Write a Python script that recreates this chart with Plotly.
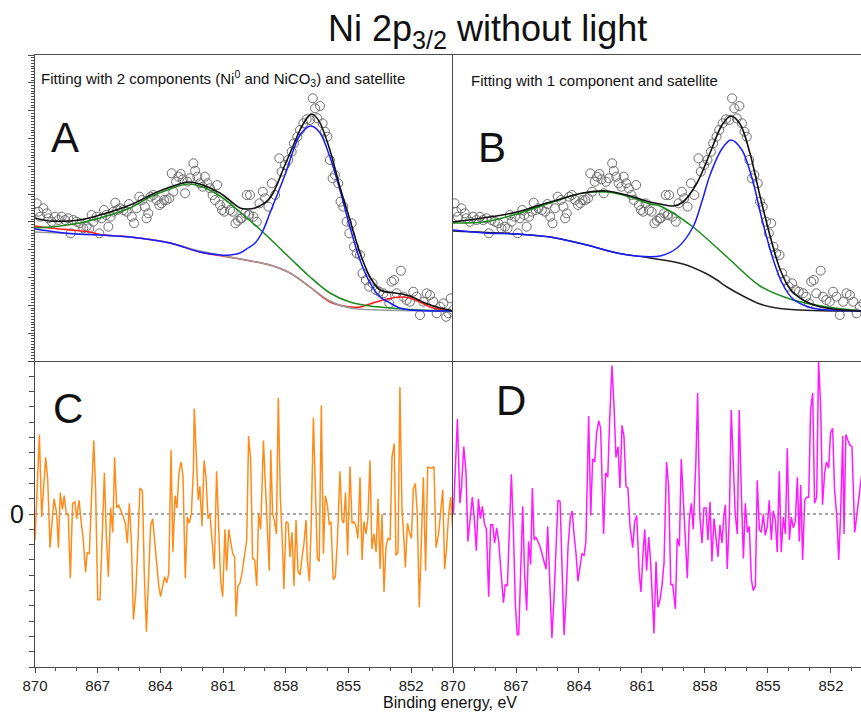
import plotly.graph_objects as go

# ---------------- measured spectrum (same data in A and B) ----------------
data_E = [869.92, 869.84, 869.76, 869.60, 869.44, 869.36, 869.20, 869.04, 868.88, 868.72,
          868.56, 868.41, 868.29, 868.17, 868.01, 867.85, 867.69, 867.53, 867.40, 867.29,
          867.21, 867.05, 866.92, 866.81, 866.70, 866.60, 866.49, 866.38, 866.25, 866.16,
          866.06, 865.93, 865.77, 865.61, 865.50, 865.37, 865.26, 865.14, 865.01, 864.86,
          864.74, 864.66, 864.58, 864.47, 864.34, 864.18, 864.05, 863.94, 863.83, 863.70,
          863.57, 863.46, 863.38, 863.25, 863.14, 863.03, 862.93, 862.82, 862.71, 862.58,
          862.42, 862.34, 862.23, 862.11, 861.98, 861.87, 861.75, 861.63, 861.50, 861.39,
          861.28, 861.15, 861.05, 860.94, 860.83, 860.67, 860.54, 860.41, 860.29, 860.16,
          859.87, 859.79,
          860.11, 859.95, 859.75, 859.71, 859.55, 859.39, 859.26, 859.10, 858.99, 858.83,
          858.67, 858.51, 858.31, 858.20, 858.04, 857.88, 857.72, 857.61, 857.45, 857.32,
          857.16, 857.00, 856.84, 856.71, 856.60, 856.49, 856.36, 856.24, 856.12, 856.01,
          855.89, 855.76, 855.65, 855.49, 855.38, 855.25, 855.09, 854.96, 854.85, 854.74,
          854.61, 854.45, 854.33, 854.17, 854.01, 853.85, 853.69, 853.53, 853.33, 853.18,
          853.05, 852.94, 852.82, 852.70, 852.49, 852.38, 852.22, 852.06, 851.90, 851.74,
          851.58, 851.42, 851.26, 851.10, 850.94, 850.78, 850.62, 850.46, 850.33, 850.22,
          850.11, 849.98]
data_I = [157.7, 149.3, 144.3, 152.7, 147.7, 142.7, 139.3, 144.3, 141.0, 144.3,
          141.0, 142.7, 127.7, 141.0, 139.3, 137.7, 132.7, 134.3, 132.7, 146.0,
          139.3, 144.3, 127.7, 142.7, 151.0, 146.0, 134.3, 144.3, 149.3, 158.3,
          151.0, 152.7, 151.0, 149.3, 157.0, 144.3, 137.7, 152.7, 164.3, 161.0,
          154.3, 142.7, 147.7, 164.3, 166.0, 161.0, 156.0, 157.7, 161.0, 161.0,
          162.7, 187.7, 169.3, 179.3, 184.3, 187.0, 181.7, 167.7, 179.3, 182.7,
          197.7, 190.3, 184.3, 177.7, 174.3, 184.3, 177.7, 172.7, 166.0, 161.0,
          176.0, 156.0, 151.0, 149.3, 157.7, 151.0, 149.3, 137.7, 140.3, 142.7,
          166.0, 146.0,
          142.7, 147.7, 146.0, 166.0, 144.3, 139.3, 157.7, 169.3, 162.7, 154.3,
          177.7, 166.0, 202.7, 189.3, 196.0, 201.0, 209.3, 217.7, 224.3, 231.0,
          237.7, 241.7, 241.0, 262.7, 252.7, 242.7, 255.0, 237.7, 229.3, 224.3,
          201.0, 182.7, 186.0, 177.7, 159.3, 154.3, 139.3, 127.7, 137.7, 114.3,
          107.7, 106.0, 87.7, 81.0, 74.3, 77.7, 71.0, 69.3, 67.7, 64.3,
          57.7, 79.3, 81.0, 67.7, 90.3, 64.3, 61.0, 59.3, 69.3, 64.3,
          46.0, 59.3, 67.7, 66.0, 59.3, 47.7, 54.3, 57.7, 44.3, 47.7,
          62.7, 51.0]

# ---------------- panel A fit (2 components + satellite) ----------------
envA_E = [870.00, 869.28, 867.85, 866.89, 865.45, 864.26, 863.54, 862.68, 862.11, 861.15,
          860.19, 859.87, 859.47, 858.76, 858.04, 857.32, 857.08, 856.79, 856.60, 856.36,
          855.89, 855.41, 854.93, 854.45, 853.97, 853.49, 852.78, 852.06, 851.34, 850.62, 850.00]
envA_I = [143, 140, 141, 146, 156, 168, 174, 179, 177, 168,
          153, 152, 153, 163, 196, 231, 240, 247, 245, 238,
          211, 174, 141, 108, 84, 71, 68, 65, 58, 53, 50]

ni0A_E = [870.00, 869.00, 868.00, 866.89, 865.45, 863.54, 862.11, 861.15, 860.67, 860.19,
          859.81, 859.47, 859.10, 858.76, 858.04, 857.32, 856.79, 856.36, 855.89, 855.41,
          854.93, 854.45, 853.97, 853.49, 853.01, 852.54, 852.06, 851.00, 850.00]
ni0A_I = [132, 129, 127, 126, 124, 118, 109, 106, 106, 108,
          113, 118, 130, 148, 186, 226, 235, 228, 204, 171,
          134, 101, 78, 64, 58, 53, 51, 50, 50]

satA_E = [870.00, 868.80, 867.85, 866.89, 865.45, 864.50, 863.54, 862.68, 862.11, 861.15,
          860.19, 859.00, 857.80, 856.84, 855.89, 854.93, 853.97, 853.01, 851.58, 850.00]
satA_I = [133, 135, 138, 143, 153, 164, 172, 177, 175, 165,
          149, 127, 103, 84, 68, 59, 55, 53, 51, 50]

nico3A_E = [870.00, 869.28, 868.32, 867.37, 866.89, 865.45, 863.54, 862.11, 860.19, 858.76,
            857.80, 856.84, 855.89, 854.93, 854.45, 853.83, 853.16, 852.54, 852.06, 851.58,
            851.10, 850.48, 850.00]
nico3A_I = [135, 133, 131, 129, 126.5, 124, 118, 109, 102, 96,
            88, 74, 59, 54, 54, 58, 62, 64, 63, 59,
            54, 51, 50]

bgA_E = [870.00, 866.89, 865.45, 863.54, 862.11, 861.15, 860.19, 858.76, 857.80, 856.84,
         855.89, 854.93, 853.49, 850.00]
bgA_I = [129, 126, 124, 118, 110, 106, 102, 96, 88, 74,
         60, 53, 51, 50]

# ---------------- panel B fit (1 component + satellite) ----------------
envB_E = [870.00, 868.57, 866.95, 865.38, 863.81, 862.67, 861.57, 860.62, 860.14, 859.50,
          859.05, 858.38, 857.76, 857.19, 856.76, 856.33, 855.86, 855.38, 854.90, 854.43,
          853.95, 853.33, 852.67, 851.90, 850.57]
envB_I = [139, 143, 149, 159, 168, 170, 165, 159, 157, 155,
          159, 178, 208, 236, 245, 237, 208, 165, 125, 92,
          72, 61, 55, 52, 50]

ni0B_E = [870.00, 868.50, 866.95, 865.38, 863.81, 862.19, 861.29, 860.14, 859.33, 858.57,
          858.14, 857.76, 857.20, 856.76, 856.24, 855.76, 855.29, 854.76, 854.33, 853.81,
          852.90, 852.00, 850.57]
ni0B_I = [131, 128, 127, 124, 117, 108, 105, 105, 113, 134,
          160, 186, 212, 221, 211, 183, 142, 102, 78, 62,
          53, 51, 50]

satB_E = [870.00, 868.57, 866.95, 865.38, 863.81, 862.67, 861.57, 860.62, 860.14, 858.57,
          856.95, 855.38, 853.81, 852.19, 850.57]
satB_I = [138, 139, 147, 158, 168, 169, 164, 157, 155, 134,
          104, 75, 61, 54, 50]

bgB_E = [870.00, 866.95, 865.38, 863.81, 862.19, 860.62, 859.05, 858.00, 857.43, 856.95,
         856.19, 855.38, 854.60, 853.50, 852.00, 850.57]
bgB_I = [130, 127, 124, 117, 108, 103, 97, 88, 81, 74,
         65, 57, 53, 51, 50, 50]

# ---------------- residuals ----------------
resC_E = [870.00, 869.92, 869.79, 869.68, 869.49, 869.39, 869.28, 869.20, 869.09, 868.96,
          868.88, 868.79, 868.69, 868.60, 868.50, 868.41, 868.31, 868.20, 868.09, 868.01,
          867.89, 867.80, 867.69, 867.58, 867.50, 867.40, 867.29, 867.19, 867.10, 867.00,
          866.89, 866.79, 866.68, 866.59, 866.49, 866.38, 866.28, 866.19, 866.09, 866.00,
          865.90, 865.77, 865.68, 865.58, 865.49, 865.39, 865.29, 865.18, 865.07, 864.98,
          864.86, 864.77, 864.67, 864.56, 864.47, 864.37, 864.27, 864.18, 864.08, 863.99,
          863.89, 863.80, 863.70, 863.60, 863.49, 863.40, 863.30, 863.21, 863.11, 863.01,
          862.92, 862.81, 862.71, 862.62, 862.52, 862.42, 862.38, 862.28, 862.19, 862.11,
          862.01, 861.91, 861.82, 861.72, 861.63, 861.53, 861.42, 861.31, 861.21, 861.12,
          861.02, 860.91, 860.83, 860.73, 860.64, 860.54, 860.45, 860.38, 860.29, 860.19,
          860.10, 860.00, 859.87, 859.78, 859.68, 859.59, 859.49, 859.39, 859.30, 859.20,
          859.07, 858.98, 858.88, 858.79, 858.72, 858.63, 858.55, 858.45, 858.36, 858.26,
          858.17, 858.09, 857.99, 857.89, 857.80, 857.70, 857.61, 857.51, 857.42, 857.32,
          857.22, 857.13, 857.03, 856.97, 856.87, 856.78, 856.68, 856.59, 856.49, 856.40,
          856.30, 856.20, 856.11, 856.01, 855.92, 855.84, 855.73, 855.63, 855.53, 855.41,
          855.31, 855.23, 855.14, 855.04, 854.93, 854.83, 854.74, 854.64, 854.55, 854.45,
          854.35, 854.26, 854.16, 854.07, 853.97, 853.88, 853.78, 853.68, 853.59, 853.49,
          853.40, 853.30, 853.21, 853.11, 853.01, 852.92, 852.81, 852.73, 852.63, 852.54,
          852.44, 852.34, 852.28, 852.18, 852.09, 851.99, 851.90, 851.80, 851.71, 851.61,
          851.52, 851.42, 851.31, 851.21, 851.10, 851.00, 850.91, 850.81, 850.69, 850.59,
          850.49, 850.40, 850.30, 850.21, 850.11, 850.02]
resC_V = [-0.17, 0.11, 0.52, -0.02, 0.37, 0.22, -0.22, -0.08, 0.10, 0.00,
          -0.22, 0.14, 0.03, 0.12, 0.00, 0.00, -0.42, 0.07, 0.08, -0.03,
          0.09, -0.04, -0.17, -0.38, -0.25, -0.26, 0.20, 0.48, 0.16, -0.56,
          -0.56, -0.17, 0.27, -0.13, -0.41, 0.04, -0.12, 0.37, 0.04, 0.06,
          0.03, -0.02, -0.06, -0.19, 0.07, -0.17, -0.69, -0.52, -0.17, 0.17,
          0.15, -0.39, -0.77, -0.39, -0.08, -0.03, -0.17, -0.34, -0.47, -0.54,
          -0.47, -0.41, -0.45, -0.39, 0.42, -0.25, 0.12, 0.04, 0.27, 0.34,
          0.25, -0.42, -0.02, -0.06, 0.00, 0.29, 0.69, 0.42, 0.09, 0.18,
          -0.08, 0.35, 0.24, -0.03, 0.00, -0.17, -0.36, 0.28, -0.10, -0.43,
          -0.54, -0.10, -0.37, -0.10, -0.18, -0.26, -0.28, -0.67, -0.47, -0.45,
          -0.39, -0.28, -0.17, 0.51, 0.35, -0.29, -0.30, -0.47, 0.00, -0.10,
          0.48, 0.20, -0.15, -0.37, 0.42, 0.00, -0.04, -0.13, 0.76, 0.11,
          -0.17, -0.49, -0.05, -0.06, -0.28, -0.12, -0.47, -0.04, -0.37, -0.40,
          -0.28, -0.19, -0.04, -0.30, -0.44, -0.04, 0.63, 0.16, -0.29, -0.31,
          0.71, -0.26, 0.12, 0.06, -0.07, -0.05, -0.43, -0.41, -0.17, 0.28,
          -0.04, -0.06, 0.14, -0.27, 0.31, -0.06, -0.05, -0.08, -0.16, 0.24,
          -0.30, -0.05, -0.13, -0.02, 0.35, -0.23, -0.13, -0.25, 0.10, -0.36,
          0.00, -0.51, -0.22, -0.16, -0.17, 0.37, 0.46, -0.27, -0.25, 0.83,
          0.03, -0.19, -0.35, -0.06, -0.12, -0.16, 0.16, 0.20, 0.00, -0.61,
          -0.26, 0.24, -0.37, 0.31, 0.30, 0.30, 0.31, -0.22, -0.13, 0.03,
          0.16, -0.36, -0.21, 0.00, 0.11, -0.09]

resD_E = [869.98, 869.89, 869.79, 869.67, 869.59, 869.49, 869.38, 869.29, 869.19, 869.08,
          868.98, 868.89, 868.79, 868.70, 868.60, 868.51, 868.41, 868.30, 868.21, 868.11,
          868.02, 867.92, 867.83, 867.73, 867.60, 867.51, 867.41, 867.32, 867.22, 867.13,
          867.03, 866.94, 866.87, 866.78, 866.68, 866.59, 866.49, 866.40, 866.30, 866.22,
          866.14, 866.05, 865.95, 865.86, 865.76, 865.67, 865.57, 865.49, 865.38, 865.29,
          865.19, 865.10, 865.00, 864.90, 864.79, 864.71, 864.62, 864.52, 864.41, 864.32,
          864.24, 864.14, 864.05, 863.95, 863.86, 863.76, 863.67, 863.54, 863.44, 863.35,
          863.25, 863.16, 863.06, 862.97, 862.87, 862.83, 862.73, 862.63, 862.54, 862.43,
          862.33, 862.24, 862.14, 862.05, 861.95, 861.86, 861.76, 861.67, 861.57, 861.44,
          861.35, 861.25, 861.14, 861.05, 860.95, 860.87, 860.78, 860.68, 860.59, 860.49,
          860.43, 860.33, 860.24, 860.14, 860.05, 859.95, 859.83, 859.73, 859.63, 859.54,
          859.41, 859.32, 859.22, 859.13, 859.03, 858.94, 858.84, 858.75, 858.65, 858.56,
          858.43, 858.35, 858.25, 858.14, 858.05, 857.95, 857.86, 857.76, 857.67, 857.57,
          857.48, 857.38, 857.29, 857.19, 857.10, 857.03, 856.94, 856.84, 856.75, 856.65,
          856.56, 856.46, 856.37, 856.27, 856.17, 856.08, 855.98, 855.89, 855.79, 855.70,
          855.60, 855.51, 855.41, 855.32, 855.22, 855.13, 855.03, 854.94, 854.84, 854.75,
          854.65, 854.56, 854.46, 854.37, 854.27, 854.17, 854.08, 853.98, 853.89, 853.79,
          853.70, 853.60, 853.51, 853.44, 853.35, 853.25, 853.16, 853.06, 852.97, 852.87,
          852.78, 852.68, 852.59, 852.49, 852.40, 852.30, 852.21, 852.11, 852.02, 851.92,
          851.83, 851.73, 851.63, 851.54, 851.44, 851.38, 851.29, 851.19, 851.10, 851.00,
          850.87, 850.78, 850.68, 850.59, 850.50]
resD_V = [0.00, 0.27, 0.62, 0.07, 0.18, 0.44, 0.27, -0.18, -0.02, 0.11,
          -0.04, -0.24, 0.10, -0.03, 0.05, -0.06, -0.10, -0.54, -0.07, -0.07,
          -0.19, -0.09, -0.17, -0.37, -0.58, -0.46, -0.47, -0.13, 0.26, -0.08,
          -0.59, -0.79, -0.79, -0.39, 0.05, -0.39, -0.63, -0.18, -0.33, 0.17,
          -0.17, -0.15, -0.18, -0.21, -0.26, -0.30, -0.36, -0.08, -0.50, -0.81,
          -0.55, -0.21, 0.09, 0.08, -0.37, -0.79, -0.56, -0.21, -0.02, 0.02,
          -0.13, -0.26, -0.44, -0.36, -0.26, -0.27, -0.18, 0.64, -0.01, 0.36,
          0.34, 0.53, 0.61, 0.56, 0.05, -0.13, 0.27, 0.24, 0.61, 0.97,
          0.70, 0.37, 0.44, 0.17, 0.58, 0.51, 0.18, 0.17, -0.08, -0.22,
          -0.05, -0.01, -0.37, -0.51, -0.26, -0.10, -0.37, -0.15, -0.31, -0.58,
          -0.78, -0.31, -0.61, -0.56, -0.47, -0.32, 0.34, 0.18, -0.46, -0.46,
          -0.62, -0.16, -0.21, 0.36, 0.11, -0.13, -0.42, -0.04, 0.07, -0.10,
          0.36, 0.79, 0.00, -0.19, 0.04, 0.04, -0.17, 0.08, -0.31, -0.03,
          -0.13, -0.28, -0.07, -0.19, -0.01, 0.06, -0.36, -0.02, 0.68, 0.31,
          0.00, -0.13, 0.68, 0.14, -0.29, 0.07, -0.12, -0.08, -0.43, -0.50,
          -0.47, 0.22, -0.10, -0.12, 0.00, -0.14, -0.08, 0.09, -0.17, 0.02,
          -0.04, -0.25, 0.28, -0.25, -0.02, -0.13, 0.43, -0.17, -0.02, -0.09,
          -0.05, 0.24, -0.18, 0.19, -0.30, 0.09, 0.11, 0.11, 0.68, 0.79,
          0.07, 0.11, 1.00, 0.70, 0.06, 0.27, 0.34, 0.30, 0.53, 0.56,
          0.16, 0.00, -0.30, 0.00, 0.51, -0.13, 0.52, 0.48, 0.45, 0.44,
          -0.12, -0.02, 0.11, 0.22, 0.30]

x_ticks = [870, 867, 864, 861, 858, 855, 852]

FONT = "Liberation Sans, Arial, sans-serif"
AX = "#4a4a4a"
SPLIT = (453 - 35) / 826.0

fig = go.Figure()

def add_top(xa, ya, env_E, env_I, comps):
    fig.add_trace(go.Scatter(x=data_E, y=data_I, mode="markers", xaxis=xa, yaxis=ya,
                             marker=dict(symbol="circle-open", size=9, color="#6e6e6e",
                                         line=dict(width=1)), showlegend=False))
    for E, I, col in comps:
        fig.add_trace(go.Scatter(x=E, y=I, mode="lines", xaxis=xa, yaxis=ya,
                                 line=dict(color=col, width=1.5, shape="spline", smoothing=0.9),
                                 showlegend=False))
    fig.add_trace(go.Scatter(x=env_E, y=env_I, mode="lines", xaxis=xa, yaxis=ya,
                             line=dict(color="#111111", width=1.6, shape="spline", smoothing=0.9),
                             showlegend=False))

add_top("x3", "y3", envA_E, envA_I,
        [(nico3A_E, nico3A_I, "#ff1a1a"), (bgA_E, bgA_I, "#9a9a9a"),
         (satA_E, satA_I, "#1a8a1a"), (ni0A_E, ni0A_I, "#1a1aff")])
add_top("x4", "y4", envB_E, envB_I,
        [(bgB_E, bgB_I, "#222222"), (satB_E, satB_I, "#1a8a1a"), (ni0B_E, ni0B_I, "#1a1aff")])

fig.add_trace(go.Scatter(x=resC_E, y=resC_V, mode="lines", xaxis="x", yaxis="y",
                         line=dict(color="#ff8c1a", width=1.5), showlegend=False))
fig.add_trace(go.Scatter(x=resD_E, y=resD_V, mode="lines", xaxis="x2", yaxis="y2",
                         line=dict(color="#ff1aff", width=1.5), showlegend=False))

xbase = dict(showgrid=False, zeroline=False, showline=True, linecolor=AX, linewidth=1.3,
             automargin=False)
bottom_x = dict(xbase, ticks="outside", ticklen=5, tickwidth=1, tickcolor=AX,
                tickvals=x_ticks, tickfont=dict(family=FONT, size=15, color="#222"),
                minor=dict(dtick=1, tick0=870, ticks="outside", ticklen=3, tickcolor=AX))
top_x = dict(xbase, mirror=True, showticklabels=False, ticks="")

fig.update_layout(
    width=861, height=714,
    margin=dict(l=35, r=0, t=55, b=47, autoexpand=False),
    paper_bgcolor="white", plot_bgcolor="white",
    xaxis=dict(bottom_x, domain=[0, SPLIT], anchor="y", range=[870, 850]),
    xaxis2=dict(bottom_x, domain=[SPLIT, 1], anchor="y2", range=[870, 850.57]),
    xaxis3=dict(top_x, domain=[0, SPLIT], anchor="y3", range=[870, 850]),
    xaxis4=dict(top_x, domain=[SPLIT, 1], anchor="y4", range=[870, 850.57]),
    yaxis=dict(domain=[0, 0.5], anchor="x", range=[-1, 1], showgrid=False, zeroline=False,
               showline=True, linecolor=AX, linewidth=1.3, automargin=False,
               ticks="outside", ticklen=5, tickcolor=AX, tickvals=[0], ticktext=["0"],
               tickfont=dict(family=FONT, size=25, color="#111"),
               minor=dict(dtick=0.1, tick0=0, ticks="outside", ticklen=5, tickcolor=AX)),
    yaxis2=dict(domain=[0, 0.5], anchor="x2", range=[-1, 1], showgrid=False, zeroline=False,
                showline=True, linecolor=AX, linewidth=1.3, showticklabels=False, ticks="",
                automargin=False),
    yaxis3=dict(domain=[0.5, 1], anchor="x3", range=[0, 306], showgrid=False, zeroline=False,
                showline=True, linecolor=AX, linewidth=1.3, showticklabels=False,
                automargin=False,
                ticks="outside", ticklen=6, tickcolor=AX, dtick=306 / 11.0, tick0=0,
                minor=dict(dtick=306 / 110.0, tick0=0, ticks="outside", ticklen=3, tickcolor=AX)),
    yaxis4=dict(domain=[0.5, 1], anchor="x4", range=[0, 306], showgrid=False, zeroline=False,
                showline=True, linecolor=AX, linewidth=1.3, showticklabels=False, ticks="",
                automargin=False),
)

for xr, yr in (("x", "y"), ("x2", "y2")):
    fig.add_shape(type="line", xref=xr + " domain", yref=yr, x0=0, x1=1, y0=0, y1=0,
                  line=dict(color="#8a8a8a", width=1.3, dash="dot"), layer="below")

def px(x):
    return (x - 35) / 826.0

def py(y):
    return (667 - y) / 612.0

ann = [
    ("Ni 2p<sub>3/2</sub> without light", 487, 31, 36, "center"),
    ("Fitting with 2 components (Ni<sup>0</sup> and NiCO<sub>3</sub>) and satellite", 39, 79, 15, "left"),
    ("Fitting with 1 component and satellite", 469, 81, 15, "left"),
    ("A", 65, 137, 42, "center"),
    ("B", 492, 147, 42, "center"),
    ("C", 68, 409, 42, "center"),
    ("D", 511, 400, 42, "center"),
    ("Binding energy, eV", 450, 702, 16, "center"),
]
for text, x, y, size, anchor in ann:
    fig.add_annotation(text=text, xref="paper", yref="paper", x=px(x), y=py(y),
                       xanchor=anchor, yanchor="middle", showarrow=False,
                       font=dict(family=FONT, size=size, color="#111"))

fig.write_html("out.html", config={"displayModeBar": False},
               post_script="document.body.style.margin='0';document.body.style.padding='0';"
                           "document.body.style.overflow='hidden';")
